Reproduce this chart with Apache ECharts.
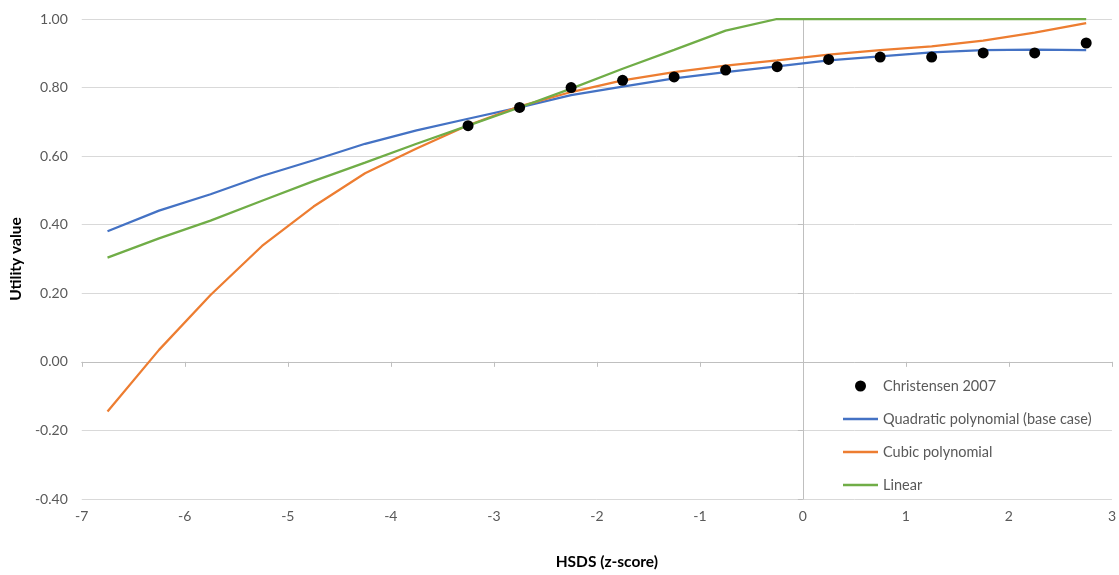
<!DOCTYPE html>
<html>
<head>
<meta charset="utf-8">
<script src="https://cdn.jsdelivr.net/npm/echarts@6/dist/echarts.min.js"></script>
<style>
html,body{margin:0;padding:0;background:#fff;}
#chart{width:1119px;height:575px;}
</style>
</head>
<body>
<div id="chart"></div>
<script>
// Data
const lineX = [-6.75,-6.25,-5.75,-5.25,-4.75,-4.25,-3.75,-3.25,-2.75,-2.25,-1.75,-1.25,-0.75,-0.25,0.25,0.75,1.25,1.75,2.25,2.75];
const quadratic = [0.381,0.441,0.489,0.542,0.588,0.636,0.675,0.709,0.742,0.778,0.803,0.827,0.845,0.862,0.879,0.891,0.903,0.909,0.911,0.909];
const cubic = [-0.145,0.035,0.195,0.338,0.453,0.550,0.622,0.690,0.745,0.787,0.821,0.845,0.864,0.879,0.896,0.909,0.920,0.937,0.960,0.988];
const linear = [0.304,0.360,0.412,0.470,0.527,0.581,0.636,0.689,0.742,0.797,0.855,0.910,0.966,1.000,1.000,1.000,1.000,1.000,1.000,1.000];
const obsX = [-3.25,-2.75,-2.25,-1.75,-1.25,-0.75,-0.25,0.25,0.75,1.25,1.75,2.25,2.75];
const christensen = [0.689,0.742,0.800,0.821,0.831,0.851,0.861,0.882,0.889,0.889,0.901,0.901,0.930];
const seriesNames = ['Christensen 2007','Quadratic polynomial (base case)','Cubic polynomial','Linear'];
const xTitle = 'HSDS (z-score)';
const yTitle = 'Utility value';

const pair = (xs, ys) => xs.map((x, i) => [x, ys[i]]);
const FONT = 'Lato, "Liberation Sans", sans-serif';
const LINE_ICON = 'path://M0,0H70V5H0Z';
const chart = echarts.init(document.getElementById('chart'), null, {renderer: 'canvas'});

const lineSeries = (name, ys, color) => ({
  name, type: 'line', data: pair(lineX, ys), xAxisIndex: 0, yAxisIndex: 0,
  symbol: 'none', lineStyle: {color, width: 2.25}, itemStyle: {color}, z: 2
});

chart.setOption({
  animation: false,
  backgroundColor: '#ffffff',
  grid: {left: 79, right: 4, top: 19, bottom: 71, containLabel: false},
  legend: {
    orient: 'vertical', left: 843, top: 378, padding: 0,
    itemWidth: 35, itemHeight: 11, itemGap: 17,
    textStyle: {fontFamily: FONT, fontSize: 14.5, color: '#595959', lineHeight: 16},
    data: [
      {name: seriesNames[0], icon: 'circle'},
      {name: seriesNames[1], icon: LINE_ICON},
      {name: seriesNames[2], icon: LINE_ICON},
      {name: seriesNames[3], icon: LINE_ICON}
    ]
  },
  xAxis: [
    {type: 'value', min: -7, max: 3, interval: 1, position: 'bottom',
     axisLine: {show: true, onZero: true, lineStyle: {color: '#bfbfbf', width: 1}},
     axisTick: {show: true, length: 5, lineStyle: {color: '#bfbfbf'}},
     axisLabel: {show: false}, splitLine: {show: false}},
    {type: 'value', min: -7, max: 3, interval: 1, position: 'bottom',
     axisLine: {show: false, onZero: false}, axisTick: {show: false},
     axisLabel: {show: true, margin: 10, fontFamily: FONT, fontSize: 14, color: '#595959'},
     splitLine: {show: false},
     name: xTitle, nameLocation: 'middle', nameGap: 55,
     nameTextStyle: {fontFamily: FONT, fontSize: 15.5, fontWeight: 'bold', color: '#000', padding: [0, 0, 0, 20]}}
  ],
  yAxis: [
    {type: 'value', min: -0.4, max: 1.0, interval: 0.2, position: 'left',
     axisLine: {show: true, onZero: true, onZeroAxisIndex: 0, lineStyle: {color: '#bfbfbf', width: 1}},
     axisTick: {show: true, length: 5, lineStyle: {color: '#bfbfbf'}},
     axisLabel: {show: false},
     splitLine: {show: true, lineStyle: {color: '#d9d9d9', width: 1}}},
    {type: 'value', min: -0.4, max: 1.0, interval: 0.2, position: 'left',
     axisLine: {show: false, onZero: false}, axisTick: {show: false},
     axisLabel: {show: true, margin: 14, fontFamily: FONT, fontSize: 14, color: '#595959',
                 formatter: v => v.toFixed(2)},
     splitLine: {show: false},
     name: yTitle, nameLocation: 'middle', nameGap: 53, nameRotate: 90,
     nameTextStyle: {fontFamily: FONT, fontSize: 15.5, fontWeight: 'bold', color: '#000'}}
  ],
  series: [
    {name: seriesNames[0], type: 'scatter', data: pair(obsX, christensen), xAxisIndex: 0, yAxisIndex: 0,
     symbol: 'circle', symbolSize: 11, itemStyle: {color: '#000', opacity: 1}, z: 5},
    lineSeries(seriesNames[1], quadratic, '#4472C4'),
    lineSeries(seriesNames[2], cubic, '#ED7D31'),
    lineSeries(seriesNames[3], linear, '#70AD47')
  ]
});
</script>
</body>
</html>
